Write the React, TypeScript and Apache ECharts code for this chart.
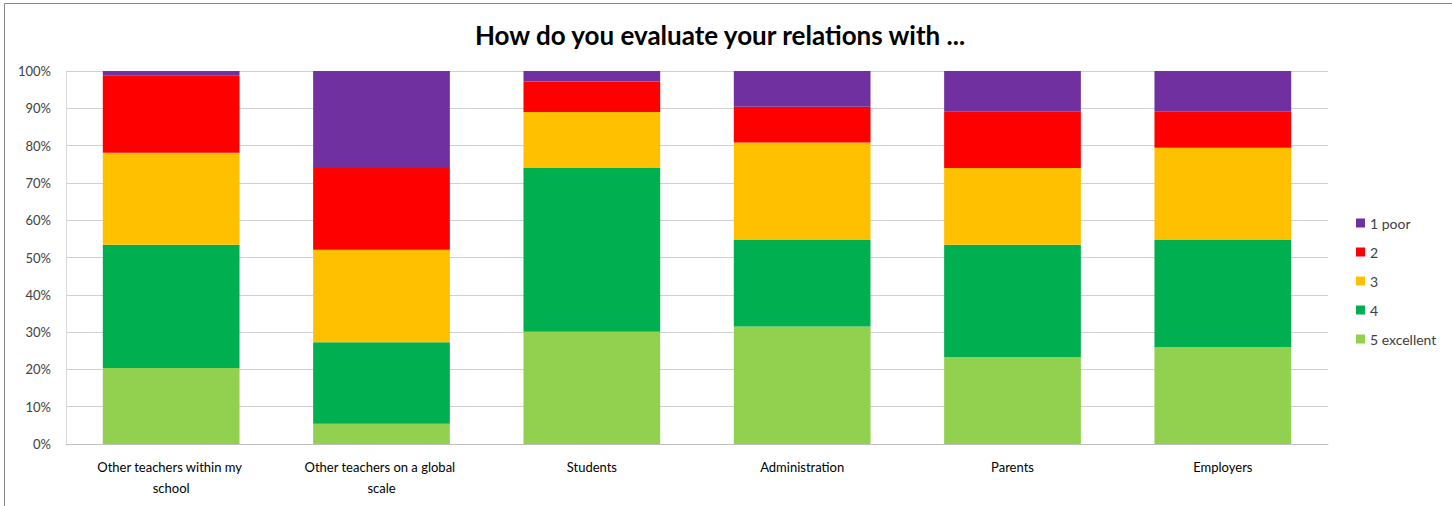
import React, { useEffect, useRef } from "react";
import * as echarts from "echarts";

const categories = [
  "Other teachers within my school",
  "Other teachers on a global scale",
  "Students",
  "Administration",
  "Parents",
  "Employers",
];
const seriesNames = ["5 excellent", "4", "3", "2", "1 poor"];
const excellent5 = [20.4, 5.4, 30.1, 31.5, 23.3, 26.0];
const rating4 = [33.0, 21.9, 43.9, 23.2, 30.1, 28.7];
const rating3 = [24.7, 24.8, 15.0, 26.1, 20.6, 24.7];
const rating2 = [20.6, 21.9, 8.2, 9.6, 15.1, 9.7];
const poor1 = [1.3, 26.0, 2.8, 9.6, 10.9, 10.9];
const seriesColors = ["#92D050", "#00B050", "#FFC000", "#FF0000", "#7030A0"];
const legendOrder = ["1 poor", "2", "3", "4", "5 excellent"];
const titleText = "How do you evaluate your relations with ...";

const FONT = "Lato, 'Open Sans', sans-serif";

export default function App() {
  const ref = useRef<HTMLDivElement>(null);
  useEffect(() => {
    if (!ref.current) return;
    const chart = echarts.init(ref.current, null, { renderer: "svg" });
    const values = [excellent5, rating4, rating3, rating2, poor1];
    chart.setOption({
      animation: false,
      backgroundColor: "#ffffff",
      textStyle: { fontFamily: FONT },
      title: {
        text: titleText,
        left: 715,
        textAlign: "center",
        top: 17,
        textStyle: { fontFamily: FONT, fontSize: 26, fontWeight: "bold", color: "#000000" },
      },
      legend: {
        orient: "vertical",
        left: 1351,
        top: 211,
        data: legendOrder,
        itemWidth: 9,
        itemHeight: 9,
        itemGap: 15,
        icon: "rect",
        textStyle: { fontFamily: FONT, fontSize: 14, color: "#404040" },
      },
      grid: { left: 66, right: 124, top: 71, bottom: 62, containLabel: false },
      xAxis: {
        type: "category",
        data: categories,
        axisLine: { show: true, lineStyle: { color: "#BFBFBF", width: 1 } },
        axisTick: { show: false },
        axisLabel: {
          fontFamily: FONT,
          fontSize: 13,
          color: "#000000",
          margin: 12,
          lineHeight: 21,
          width: 170,
          overflow: "break",
          interval: 0,
        },
      },
      yAxis: {
        type: "value",
        min: 0,
        max: 100,
        interval: 10,
        axisLine: { show: true, lineStyle: { color: "#D9D9D9", width: 1 } },
        axisTick: { show: false },
        splitLine: { show: true, lineStyle: { color: "#D0D0D0", width: 1 } },
        axisLabel: {
          fontFamily: FONT,
          fontSize: 13,
          color: "#404040",
          margin: 15,
          formatter: "{value}%",
        },
      },
      graphic: [
        {
          type: "line",
          shape: { x1: 4.5, y1: 3.5, x2: 1452, y2: 3.5 },
          style: { stroke: "#868686", lineWidth: 1 },
        },
        {
          type: "line",
          shape: { x1: 4.5, y1: 3.5, x2: 4.5, y2: 506 },
          style: { stroke: "#868686", lineWidth: 1 },
        },
      ],
      series: seriesNames.map((name, i) => ({
        name,
        type: "bar",
        stack: "total",
        barCategoryGap: "35%",
        itemStyle: { color: seriesColors[i] },
        data: values[i],
      })),
    });
    return () => chart.dispose();
  }, []);
  return (
    <div
      ref={ref}
      style={{ position: "absolute", left: 0, top: 0, width: 1452, height: 506 }}
    />
  );
}
